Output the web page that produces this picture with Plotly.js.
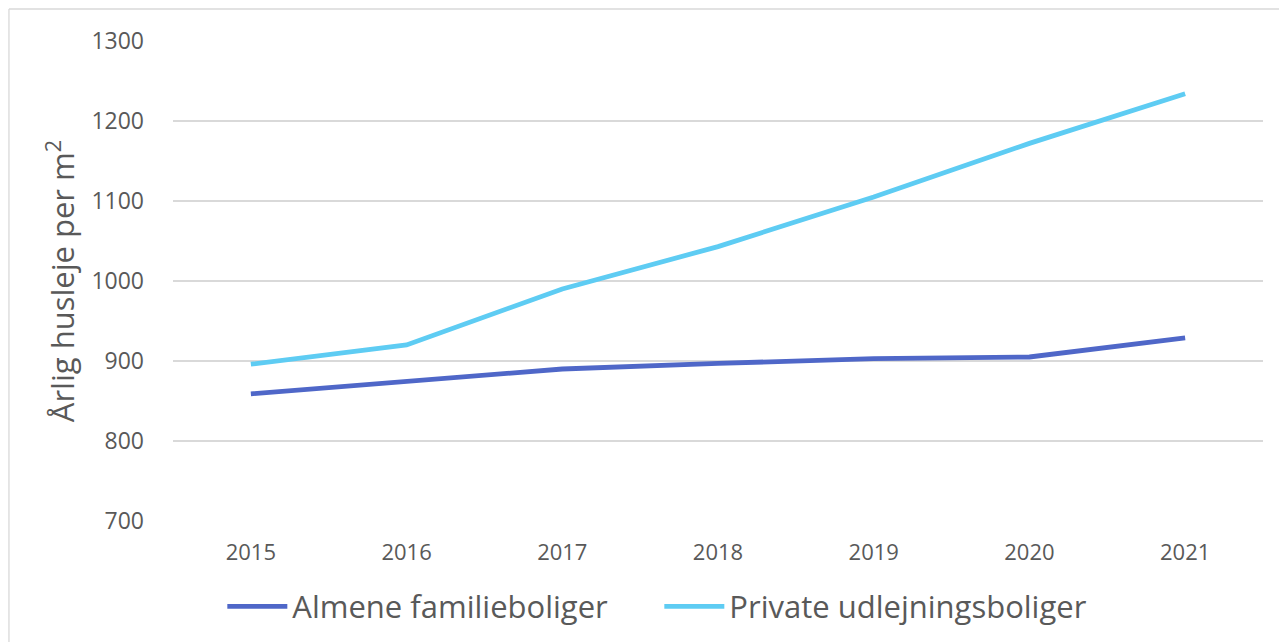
<!DOCTYPE html>
<html>
<head>
<meta charset="utf-8">
<script src="https://cdn.plot.ly/plotly-3.0.1.min.js"></script>
<style>
  html, body { margin: 0; padding: 0; background: #fff; }
  #chart { width: 1279px; height: 642px; }
</style>
</head>
<body>
<div id="chart"></div>
<script>
const years = ['2015', '2016', '2017', '2018', '2019', '2020', '2021'];
const almeneName = 'Almene familieboliger';
const almene = [859, 874, 890, 897, 903, 905, 929];
const privateName = 'Private udlejningsboliger';
const privat = [896, 920, 990, 1043, 1105, 1172, 1234];
const yTicks = [700, 800, 900, 1000, 1100, 1200, 1300];

const font = '"Open Sans", Roboto, "DejaVu Sans", sans-serif';
const textColor = '#595959';

const traces = [
  {
    x: years, y: almene, name: almeneName, type: 'scatter', mode: 'lines',
    line: { color: '#4F67C8', width: 4.8 }
  },
  {
    x: years, y: privat, name: privateName, type: 'scatter', mode: 'lines',
    line: { color: '#5ECCF3', width: 4.8 }
  }
];

const layout = {
  width: 1279, height: 642,
  margin: { l: 173, r: 16, t: 41, b: 121 },
  paper_bgcolor: '#ffffff', plot_bgcolor: '#ffffff',
  font: { family: font, color: textColor },
  showlegend: true,
  legend: {
    orientation: 'h', xref: 'container', yref: 'container',
    x: 0.5155, xanchor: 'center', y: 0.055, yanchor: 'middle',
    font: { size: 31, color: textColor, family: font },
    itemwidth: 60, tracegroupgap: 0, entrywidth: 362
  },
  xaxis: {
    type: 'category', range: [-0.5, 6.5], showgrid: false, zeroline: false, showline: false,
    ticks: '', ticklabelstandoff: 16,
    tickfont: { size: 22, color: textColor, family: font },
    fixedrange: true
  },
  yaxis: {
    range: [700, 1300], tickvals: yTicks, ticktext: yTicks.map(String),
    showgrid: true, gridcolor: '#D9D9D9', gridwidth: 1.3,
    zeroline: false, showline: false, ticks: '', ticklabelstandoff: 28,
    tickfont: { size: 23, color: textColor, family: font },
    title: { text: 'Årlig husleje per m<sup>2</sup>', standoff: 7,
             font: { size: 31, color: textColor, family: font } },
    fixedrange: true
  },
  shapes: [
    { type: 'line', xref: 'paper', yref: 'paper', x0: -0.1505, x1: 1.02, y0: 1.0667, y1: 1.0667,
      line: { color: '#D9D9D9', width: 1.3 } },
    { type: 'line', xref: 'paper', yref: 'paper', x0: -0.1505, x1: -0.1505, y0: -0.3, y1: 1.0667,
      line: { color: '#D9D9D9', width: 1.3 } }
  ]
};

Plotly.newPlot('chart', traces, layout, { displayModeBar: false, staticPlot: true });
</script>
</body>
</html>
